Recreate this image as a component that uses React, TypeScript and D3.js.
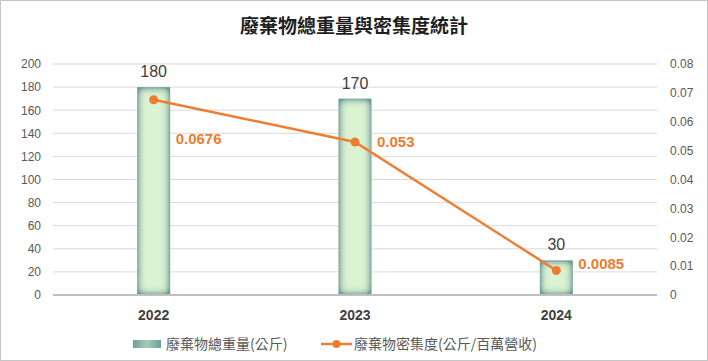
import React, { useEffect, useRef } from 'react';
import * as d3 from 'd3';

const years = ['2022', '2023', '2024'];
const totalWeight = [180, 170, 30];
const density = [0.0676, 0.053, 0.0085];
const leftTicks = [0, 20, 40, 60, 80, 100, 120, 140, 160, 180, 200];
const rightTicks = [0, 0.01, 0.02, 0.03, 0.04, 0.05, 0.06, 0.07, 0.08];
const title = '廢棄物總重量與密集度統計';
const barName = '廢棄物總重量(公斤)';
const lineName = '廢棄物密集度(公斤/百萬營收)';

const W = 708, H = 361;
const latin = '"Liberation Sans", Arial, sans-serif';
const cjk = '"Noto Sans CJK TC", "Noto Sans CJK SC", sans-serif';

const App = () => {
    const ref = useRef<SVGSVGElement>(null);

    useEffect(() => {
        if (ref.current) drawChart(ref.current);
    }, []);

    function drawChart(node: SVGSVGElement) {
        const svg = d3.select(node);
        svg.selectAll('*').remove();

        const margin = { top: 64, right: 51, bottom: 66, left: 53 };
        const width = W - margin.left - margin.right;
        const height = H - margin.top - margin.bottom;

        const defs = svg.append('defs');
        // inner glow: light green centre fading to teal at every edge
        const glow = defs.append('filter')
            .attr('id', 'innerGlow')
            .attr('x', '-50%').attr('y', '-50%').attr('width', '200%').attr('height', '200%');
        glow.append('feFlood').attr('flood-color', '#6a9b97').attr('result', 'flood');
        glow.append('feComposite').attr('in', 'flood').attr('in2', 'SourceAlpha').attr('operator', 'out').attr('result', 'outside');
        glow.append('feGaussianBlur').attr('in', 'outside').attr('stdDeviation', 4).attr('result', 'blur');
        glow.append('feComponentTransfer').attr('in', 'blur').attr('result', 'boost')
            .append('feFuncA').attr('type', 'linear').attr('slope', 1.9).attr('intercept', 0);
        glow.append('feComposite').attr('in', 'boost').attr('in2', 'SourceAlpha').attr('operator', 'in').attr('result', 'inner');
        const merge = glow.append('feMerge');
        merge.append('feMergeNode').attr('in', 'SourceGraphic');
        merge.append('feMergeNode').attr('in', 'inner');

        const lgGrad = defs.append('linearGradient').attr('id', 'legGrad');
        lgGrad.append('stop').attr('offset', '0%').attr('stop-color', '#6f9e99');
        lgGrad.append('stop').attr('offset', '50%').attr('stop-color', '#a8cbbd');
        lgGrad.append('stop').attr('offset', '100%').attr('stop-color', '#6f9e99');

        svg.append('rect')
            .attr('x', 0.5).attr('y', 0.5)
            .attr('width', W - 1).attr('height', H - 1)
            .attr('fill', '#fff').attr('stroke', '#c6c6c6');

        svg.append('text')
            .attr('x', W / 2).attr('y', 33)
            .attr('text-anchor', 'middle')
            .style('font-family', cjk).style('font-size', '19px').style('font-weight', 'bold')
            .style('fill', '#1f1f1f')
            .text(title);

        const g = svg.append('g').attr('transform', `translate(${margin.left},${margin.top})`);

        const x = d3.scaleBand().domain(years).range([0, width]).paddingInner(0.836).paddingOuter(0.418);
        const y = d3.scaleLinear().domain([0, 200]).range([height, 0]);
        const y2 = d3.scaleLinear().domain([0, 0.08]).range([height, 0]);

        // gridlines
        g.append('g').selectAll('line').data(leftTicks.slice(1)).enter().append('line')
            .attr('x1', 0).attr('x2', width)
            .attr('y1', d => y(d)).attr('y2', d => y(d))
            .attr('stroke', '#d9d9d9').attr('stroke-width', 1);

        const leftAxis = g.append('g').call(d3.axisLeft(y).tickValues(leftTicks).tickSize(0).tickPadding(12));
        leftAxis.select('.domain').remove();
        leftAxis.selectAll('text').style('font-family', latin).style('font-size', '12px').style('fill', '#595959');

        const rightAxis = g.append('g').attr('transform', `translate(${width},0)`)
            .call(d3.axisRight(y2).tickValues(rightTicks).tickSize(0).tickPadding(13).tickFormat(d => d3.format('')(+d)));
        rightAxis.select('.domain').remove();
        rightAxis.selectAll('text').style('font-family', latin).style('font-size', '12px').style('fill', '#595959');

        // bars
        g.append('g').selectAll('rect').data(totalWeight).enter().append('rect')
            .attr('x', (d, i) => x(years[i])!)
            .attr('y', d => y(d))
            .attr('width', x.bandwidth())
            .attr('height', d => height - y(d))
            .attr('fill', '#daf3d2')
            .attr('filter', 'url(#innerGlow)');

        g.append('g').selectAll('text').data(totalWeight).enter().append('text')
            .attr('x', (d, i) => x(years[i])! + x.bandwidth() / 2)
            .attr('y', d => y(d) - 10)
            .attr('text-anchor', 'middle')
            .style('font-family', latin).style('font-size', '16px').style('fill', '#404040')
            .text(d => d);

        // baseline
        g.append('line')
            .attr('x1', 0).attr('x2', width)
            .attr('y1', height).attr('y2', height)
            .attr('stroke', '#bfbfbf').attr('stroke-width', 2);

        // x labels
        g.append('g').selectAll('text').data(years).enter().append('text')
            .attr('x', d => x(d)! + x.bandwidth() / 2)
            .attr('y', height + 25)
            .attr('text-anchor', 'middle')
            .style('font-family', latin).style('font-size', '14px').style('font-weight', 'bold')
            .style('fill', '#404040')
            .text(d => d);

        // line
        const cx = (i: number) => x(years[i])! + x.bandwidth() / 2;
        const line = d3.line<number>().x((d, i) => cx(i)).y(d => y2(d));
        g.append('path').datum(density)
            .attr('d', line)
            .attr('fill', 'none').attr('stroke', '#ed7d31').attr('stroke-width', 2.5);

        g.append('g').selectAll('circle').data(density).enter().append('circle')
            .attr('cx', (d, i) => cx(i)).attr('cy', d => y2(d))
            .attr('r', 4.5).attr('fill', '#ed7d31');

        const labelDy = [44, 5, -1];
        g.append('g').selectAll('text').data(density).enter().append('text')
            .attr('x', (d, i) => cx(i) + 22)
            .attr('y', (d, i) => y2(d) + labelDy[i])
            .style('font-family', latin).style('font-size', '15px').style('font-weight', 'bold')
            .style('fill', '#ed7d31')
            .text(d => d);

        // legend
        const leg = svg.append('g').attr('transform', 'translate(0,344)');
        leg.append('rect').attr('x', 133).attr('y', -4).attr('width', 28).attr('height', 8).attr('fill', 'url(#legGrad)');
        leg.append('text').attr('x', 166).attr('y', 5)
            .style('font-family', cjk).style('font-size', '14px').style('fill', '#595959')
            .text(barName);
        leg.append('line').attr('x1', 321).attr('x2', 352).attr('y1', 0).attr('y2', 0)
            .attr('stroke', '#ed7d31').attr('stroke-width', 2.5);
        leg.append('circle').attr('cx', 336.5).attr('cy', 0).attr('r', 4).attr('fill', '#ed7d31');
        leg.append('text').attr('x', 354).attr('y', 5)
            .style('font-family', cjk).style('font-size', '14px').style('fill', '#595959')
            .text(lineName);
    }

    return (
        <svg ref={ref} width={W} height={H} style={{ position: 'absolute', left: 0, top: 0, display: 'block' }} />
    );
};

export default App;
